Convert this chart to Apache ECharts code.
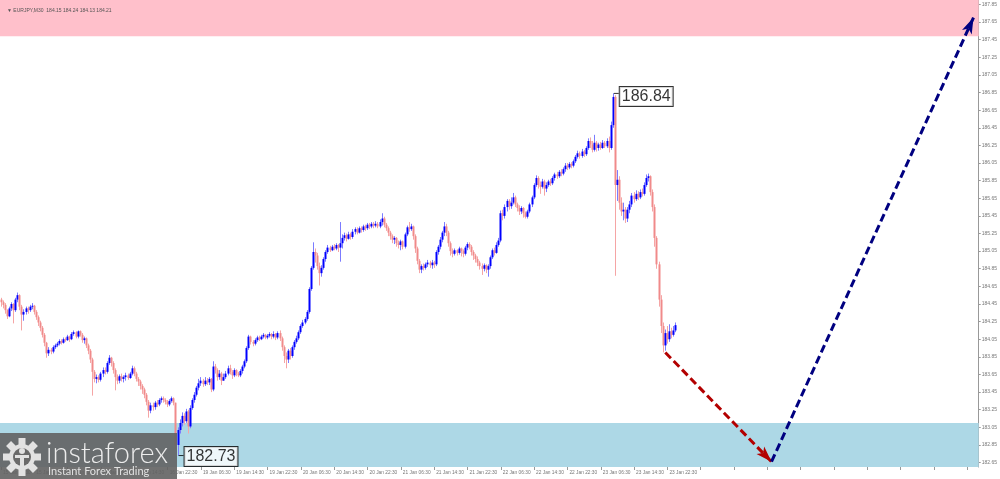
<!DOCTYPE html>
<html><head><meta charset="utf-8">
<script src="https://cdn.jsdelivr.net/npm/echarts@6/dist/echarts.min.js"></script>
<style>html,body{margin:0;padding:0;background:#fff}#c{width:1000px;height:479px}</style>
</head><body><div id="c"></div>
<script>
const symbolTitle = '\u25BC EURJPY,M30  184.15 184.24 184.13 184.21';
const tickLabels = ['15 Jan 06:30','15 Jan 14:30','15 Jan 22:30','16 Jan 06:30','16 Jan 14:30','16 Jan 22:30',
 '19 Jan 06:30','19 Jan 14:30','19 Jan 22:30','20 Jan 06:30','20 Jan 14:30','20 Jan 22:30',
 '21 Jan 06:30','21 Jan 14:30','21 Jan 22:30','22 Jan 06:30','22 Jan 14:30','22 Jan 22:30',
 '23 Jan 06:30','23 Jan 14:30','23 Jan 22:30'];
const yTickValues = [182.65,182.85,183.05,183.25,183.45,183.65,183.85,184.05,184.25,184.45,184.65,184.85,
 185.05,185.25,185.45,185.65,185.85,186.05,186.25,186.45,186.65,186.85,187.05,187.25,187.45,187.65,187.85];
const firstOpen = 184.50;
const closes = [
184.47,184.44,184.38,184.31,184.40,184.45,184.38,184.50,184.55,184.42,
184.33,184.36,184.40,184.38,184.42,184.43,184.36,184.30,184.24,184.18,
184.10,184.01,183.89,183.93,183.91,183.96,183.98,184.00,184.03,184.01,
184.05,184.04,184.08,184.05,184.11,184.13,184.08,184.14,184.10,184.04,
184.06,183.98,183.92,183.82,183.68,183.60,183.62,183.59,183.66,183.70,
183.68,183.78,183.84,183.78,183.70,183.62,183.58,183.63,183.60,183.62,
183.64,183.61,183.66,183.72,183.66,183.60,183.57,183.52,183.48,183.42,
183.34,183.24,183.30,183.28,183.33,183.31,183.36,183.38,183.36,183.34,
183.31,183.35,183.38,183.33,182.85,183.02,183.10,183.18,183.12,183.23,
183.06,183.27,183.36,183.42,183.50,183.55,183.58,183.54,183.58,183.56,
183.60,183.48,183.74,183.70,183.62,183.66,183.58,183.62,183.66,183.72,
183.68,183.64,183.70,183.66,183.64,183.69,183.74,183.80,183.95,184.08,
184.02,184.00,184.04,184.07,184.05,184.08,184.10,184.07,184.09,184.11,
184.08,184.11,184.07,184.12,184.06,183.96,183.86,183.82,183.92,183.86,
183.96,184.02,184.06,184.13,184.20,184.24,184.28,184.36,184.62,184.86,
185.04,185.00,184.88,184.80,184.86,184.96,185.04,185.09,185.06,185.10,
185.08,185.12,185.09,185.14,185.20,185.23,185.19,185.24,185.21,185.27,
185.30,185.26,185.31,185.29,185.33,185.31,185.35,185.33,185.36,185.34,
185.36,185.33,185.38,185.42,185.35,185.31,185.26,185.22,185.18,185.20,
185.14,185.12,185.16,185.10,185.24,185.32,185.30,185.33,185.22,185.08,
184.94,184.84,184.88,184.86,184.90,184.92,184.89,184.92,184.90,185.04,
185.10,185.18,185.26,185.33,185.26,185.14,185.05,185.02,185.06,185.03,
185.08,185.05,185.02,185.09,185.13,185.10,185.04,185.00,184.96,184.92,
184.88,184.85,184.89,184.84,184.88,184.98,185.06,185.03,185.12,185.17,
185.48,185.45,185.55,185.62,185.56,185.60,185.66,185.58,185.54,185.50,
185.54,185.48,185.44,185.50,185.58,185.66,185.80,185.88,185.80,185.78,
185.84,185.76,185.80,185.84,185.82,185.88,185.92,185.90,185.95,185.93,
185.98,186.02,186.00,186.04,186.02,186.07,186.12,186.16,186.13,186.18,
186.15,186.22,186.30,186.26,186.20,186.28,186.22,186.26,186.22,186.28,
186.24,186.30,186.22,186.48,186.80,185.80,185.86,185.60,185.50,185.52,
185.42,185.52,185.58,185.68,185.64,185.70,185.66,185.72,185.70,185.80,
185.88,185.90,185.72,185.55,185.20,184.90,184.50,184.20,183.98,184.12,
184.05,184.14,184.10,184.15,184.21];
const highs = [
184.52,184.49,184.46,184.39,184.42,184.47,184.46,184.52,184.58,184.56,
184.44,184.39,184.42,184.42,184.44,184.46,184.44,184.38,184.32,184.26,
184.20,184.12,184.02,183.96,183.95,183.98,184.00,184.02,184.05,184.05,
184.07,184.07,184.10,184.09,184.13,184.15,184.14,184.15,184.15,184.12,
184.08,184.07,184.00,183.94,183.84,183.70,183.65,183.64,183.68,183.73,
183.73,183.80,183.87,183.85,183.80,183.72,183.65,183.65,183.66,183.64,
183.67,183.66,183.68,183.75,183.74,183.68,183.62,183.59,183.54,183.50,
183.44,183.36,183.33,183.33,183.35,183.36,183.38,183.40,183.40,183.38,
183.36,183.37,183.40,183.39,183.31,183.05,183.14,183.22,183.21,183.26,
183.25,183.30,183.38,183.45,183.52,183.60,183.62,183.60,183.62,183.61,
183.62,183.61,183.80,183.77,183.72,183.70,183.68,183.66,183.69,183.75,
183.76,183.70,183.72,183.71,183.68,183.71,183.76,183.82,183.97,184.10,
184.09,184.04,184.06,184.09,184.09,184.10,184.12,184.11,184.11,184.13,
184.12,184.14,184.12,184.14,184.15,184.08,183.98,183.90,183.94,183.95,
183.98,184.04,184.09,184.15,184.22,184.27,184.30,184.38,184.64,184.88,
185.15,185.08,185.03,184.92,184.89,184.98,185.06,185.12,185.11,185.12,
185.13,185.14,185.13,185.38,185.24,185.26,185.25,185.27,185.26,185.30,
185.32,185.32,185.33,185.33,185.35,185.35,185.37,185.37,185.38,185.38,
185.39,185.38,185.41,185.48,185.44,185.37,185.33,185.28,185.24,185.22,
185.21,185.17,185.18,185.17,185.26,185.34,185.38,185.36,185.34,185.24,
185.10,184.96,184.90,184.91,184.92,184.95,184.94,184.95,184.94,185.06,
185.12,185.21,185.28,185.38,185.36,185.28,185.16,185.08,185.08,185.07,
185.10,185.09,185.07,185.11,185.15,185.15,185.12,185.06,185.02,184.99,
184.94,184.91,184.91,184.90,184.90,185.00,185.08,185.09,185.15,185.20,
185.51,185.52,185.58,185.64,185.64,185.66,185.71,185.68,185.60,185.57,
185.56,185.55,185.50,185.52,185.60,185.68,185.82,185.91,185.90,185.84,
185.87,185.86,185.83,185.86,185.87,185.90,185.94,185.95,185.97,185.98,
186.00,186.05,186.05,186.06,186.06,186.09,186.14,186.19,186.18,186.21,
186.20,186.24,186.33,186.34,186.30,186.37,186.30,186.28,186.29,186.31,
186.30,186.33,186.35,186.52,186.84,186.82,185.97,185.90,185.66,185.60,
185.55,185.55,185.62,185.71,185.72,185.74,185.73,185.75,185.76,185.83,
185.92,185.93,185.91,185.75,185.58,185.22,184.93,184.55,184.24,184.16,
184.20,184.22,184.18,184.20,184.24];
const lows = [
184.42,184.40,184.34,184.28,184.30,184.37,184.23,184.36,184.47,184.38,
184.15,184.26,184.33,184.34,184.36,184.39,184.33,184.27,184.20,184.14,
184.07,183.97,183.84,183.86,183.88,183.89,183.94,183.96,183.98,183.99,
184.00,184.02,184.03,184.02,184.04,184.09,184.06,184.06,184.08,184.01,
184.00,183.95,183.88,183.78,183.41,183.56,183.55,183.56,183.57,183.62,
183.65,183.66,183.76,183.74,183.66,183.47,183.54,183.55,183.57,183.56,
183.58,183.59,183.60,183.64,183.63,183.57,183.52,183.48,183.43,183.38,
183.30,183.16,183.21,183.24,183.25,183.28,183.29,183.33,183.33,183.31,
183.28,183.29,183.33,183.30,182.80,182.73,182.98,183.06,183.08,183.10,
182.98,183.04,183.25,183.33,183.40,183.47,183.52,183.51,183.52,183.53,
183.53,183.45,183.46,183.66,183.58,183.59,183.53,183.58,183.60,183.64,
183.65,183.60,183.62,183.63,183.62,183.62,183.66,183.72,183.78,183.93,
183.99,183.97,183.98,184.02,184.03,184.04,184.06,184.05,184.05,184.07,
184.05,184.06,184.04,184.05,184.03,183.92,183.78,183.72,183.78,183.82,
183.84,183.93,184.00,184.04,184.11,184.18,184.22,184.26,184.34,184.60,
184.84,184.92,184.84,184.66,184.76,184.84,184.93,185.02,185.04,185.05,
185.06,185.06,185.04,184.93,185.08,185.17,185.16,185.18,185.18,185.19,
185.24,185.24,185.25,185.26,185.27,185.28,185.29,185.30,185.31,185.31,
185.32,185.31,185.31,185.34,185.32,185.28,185.22,185.18,185.14,185.13,
185.10,185.08,185.06,185.07,185.08,185.22,185.27,185.28,185.18,185.03,
184.90,184.80,184.80,184.83,184.84,184.87,184.86,184.85,184.86,184.88,
185.01,185.07,185.15,185.22,185.22,185.10,185.00,184.98,185.00,185.00,
185.01,184.99,184.98,185.00,185.06,185.07,185.00,184.95,184.92,184.88,
184.84,184.78,184.82,184.80,184.76,184.85,184.96,185.00,185.02,185.10,
185.15,185.40,185.42,185.50,185.52,185.53,185.58,185.55,185.50,185.46,
185.47,185.43,185.42,185.42,185.48,185.55,185.64,185.78,185.76,185.70,
185.76,185.68,185.72,185.78,185.79,185.80,185.85,185.87,185.88,185.90,
185.91,185.95,185.97,185.98,185.99,186.00,186.05,186.10,186.10,186.11,
186.12,186.13,186.20,186.22,186.17,186.18,186.18,186.19,186.20,186.21,
186.22,186.22,186.17,186.20,186.45,184.77,185.62,185.52,185.45,185.40,
185.37,185.38,185.48,185.55,185.60,185.62,185.63,185.64,185.67,185.68,
185.78,185.84,185.68,185.50,185.10,184.85,184.42,184.12,183.90,183.92,
184.00,184.02,184.06,184.08,184.13];
const extremeIdx = [294, 85];
const extremeVal = [186.84, 182.73];
const lastPrice = 184.21;
const sellZone = [187.49, 187.90];
const buyZone = [182.60, 183.10];
const forecastIdx = [319, 370, 467];
const forecastPrice = [183.90, 182.66, 187.70];
const totalSlots = 470;

const candles = closes.map((c, i) => {
  const o = i === 0 ? firstOpen : closes[i - 1];
  return [i, o, c, Math.min(lows[i], o, c), Math.max(highs[i], o, c)];
});
const cats = [];
for (let i = 0; i < totalSlots; i++) {
  cats.push(i % 16 === 0 && tickLabels[i / 16] ? tickLabels[i / 16] : '');
}
function renderCandle(params, api) {
  const i = api.value(0), o = api.value(1), c = api.value(2), l = api.value(3), h = api.value(4);
  const pO = api.coord([i, o]), pC = api.coord([i, c]), pL = api.coord([i, l]), pH = api.coord([i, h]);
  const up = c >= o;
  const px = Math.round(pO[0] - 0.5);
  const top = Math.min(pO[1], pC[1]);
  const bh = Math.max(Math.abs(pO[1] - pC[1]), 1);
  return {type: 'group', children: [
    {type: 'line', shape: {x1: px + 0.5, y1: pH[1], x2: px + 0.5, y2: pL[1]},
      style: {stroke: up ? '#7b7bff' : '#f5a5a5', lineWidth: 1}},
    {type: 'rect', shape: {x: px - 0.5, y: top, width: 2, height: bh},
      style: {fill: up ? '#0000ff' : '#f08a8a'}}
  ]};
}
const chart = echarts.init(document.getElementById('c'), null, {renderer: 'canvas'});
const gear = [];
for (let k = 0; k < 8; k++) {
  gear.push({type: 'rect', z: 101, x: 22, y: 457, rotation: k * Math.PI / 4,
    shape: {x: -3.5, y: -19, width: 7, height: 7}, style: {fill: '#e2e2e2'}});
}
gear.push(
  {type: 'circle', z: 101, shape: {cx: 22, cy: 457, r: 13}, style: {fill: '#e2e2e2'}},
  {type: 'circle', z: 102, shape: {cx: 22, cy: 457, r: 9}, style: {fill: '#6a6a6a'}},
  {type: 'circle', z: 103, shape: {cx: 22, cy: 451, r: 3}, style: {fill: '#e2e2e2'}},
  {type: 'rect', z: 103, shape: {x: 20, y: 455, width: 4, height: 11}, style: {fill: '#e2e2e2'}},
  {type: 'rect', z: 103, shape: {x: 15, y: 455, width: 14, height: 3}, style: {fill: '#e2e2e2'}}
);
chart.setOption({
  animation: false,
  textStyle: {fontFamily: 'Liberation Sans'},
  title: {text: symbolTitle, left: 2, top: 3,
    textStyle: {fontSize: 5, color: '#555', fontWeight: 'normal', fontFamily: 'Liberation Sans'}},
  grid: {left: 0, right: 20, top: 0, bottom: 12, containLabel: false},
  xAxis: {type: 'category', data: cats, boundaryGap: true,
    axisLine: {show: false},
    axisTick: {show: true, interval: 15, alignWithLabel: true, length: 3, lineStyle: {color: '#999'}},
    axisLabel: {interval: 15, align: 'left', margin: 3, fontSize: 4.8, color: '#777', padding: [0,0,0,2]},
    splitLine: {show: false}},
  yAxis: {type: 'value', position: 'right', min: 182.60, max: 187.90,
    axisLine: {show: true, lineStyle: {color: '#999', width: 1}},
    axisTick: {show: true, length: 2, customValues: yTickValues, lineStyle: {color: '#999'}},
    axisLabel: {customValues: yTickValues, fontSize: 5, color: '#777', margin: 3,
      formatter: v => v.toFixed(2)},
    splitLine: {show: false}},
  series: [
    {type: 'line', data: [], z: 1, silent: true,
      markArea: {silent: true, data: [
        [{yAxis: sellZone[0], itemStyle: {color: '#FFC0CB', opacity: 1}}, {yAxis: sellZone[1]}],
        [{yAxis: buyZone[0], itemStyle: {color: '#ADD8E6', opacity: 1}}, {yAxis: buyZone[1]}]
      ]},
      markLine: {silent: true, symbol: 'none', data: [{yAxis: lastPrice}],
        lineStyle: {opacity: 0},
        label: {show: true, position: 'end', distance: 2, formatter: lastPrice.toFixed(2),
          backgroundColor: '#111', color: '#fff', fontSize: 5, padding: [1, 2]}}},
    {type: 'custom', data: candles, z: 2, silent: true, clip: true,
      encode: {x: 0, y: [1, 2, 3, 4]}, renderItem: renderCandle},
    {type: 'line', data: [], z: 5, silent: true,
      markLine: {silent: true, symbol: ['none', 'arrow'], data: [
        [{coord: [forecastIdx[0], forecastPrice[0]], symbolSize: [12, 14],
          lineStyle: {color: '#b30000', width: 3, type: [8, 4]}},
         {coord: [forecastIdx[1], forecastPrice[1]]}],
        [{coord: [forecastIdx[1], forecastPrice[1]], symbolSize: [16, 20],
          lineStyle: {color: '#000080', width: 3, type: [8, 4]}},
         {coord: [forecastIdx[2], forecastPrice[2]]}]
      ], label: {show: false}}},
    {type: 'scatter', z: 6, silent: true,
      data: extremeIdx.map((x, k) => ({value: [x, extremeVal[k]],
        itemStyle: {color: '#000'}, label: {offset: [0, k === 0 ? 3 : 1]}})),
      symbol: 'rect', symbolSize: [5, 1], symbolOffset: [3, 0],
      label: {show: true, position: 'right', distance: 1, formatter: p => p.value[1].toFixed(2),
        fontSize: 16, color: '#000', backgroundColor: '#fff', borderColor: '#000', borderWidth: 1,
        padding: [2, 2, 1, 2], fontFamily: 'Liberation Sans'}}
  ],
  graphic: [
    {type: 'rect', z: 100, shape: {x: 0, y: 433, width: 177, height: 46}, style: {fill: 'rgba(98,98,98,0.9)'}}
  ].concat(gear, [
    {type: 'text', z: 101, x: 46, y: 468, style: {text: 'instaforex', fontFamily: 'Lato', fontWeight: 300,
      fontSize: 29, fill: '#ececec', verticalAlign: 'bottom'}},
    {type: 'text', z: 101, x: 48, y: 471, style: {text: 'Instant Forex Trading', fontFamily: 'Lato',
      fontSize: 11, fill: '#e2e2e2', verticalAlign: 'middle'}}
  ])
});
</script></body></html>
